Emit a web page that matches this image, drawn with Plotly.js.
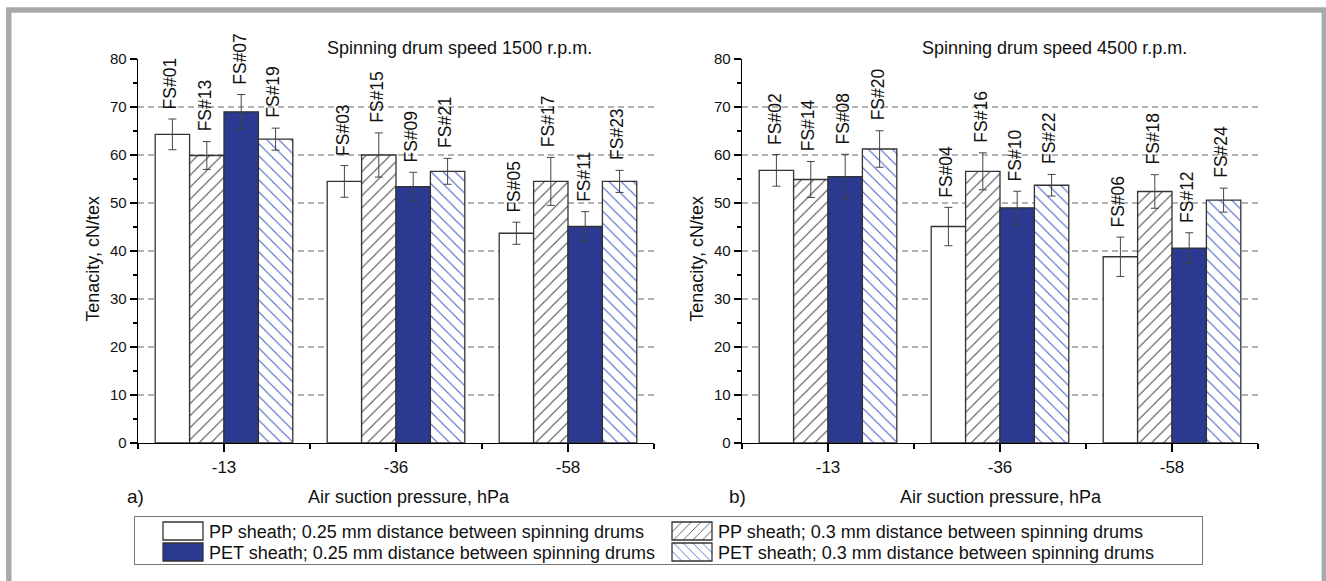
<!DOCTYPE html>
<html><head><meta charset="utf-8">
<script src="https://cdn.plot.ly/plotly-3.0.1.min.js"></script>
<style>html,body{margin:0;padding:0;background:#fff;}#chart{width:1326px;height:581px;}</style>
</head><body><div id="chart"></div>
<script>
// ---------- DATA ----------
const categories = ['-13', '-36', '-58'];
const seriesNames = [
  'PP sheath; 0.25 mm distance between spinning drums',
  'PP sheath; 0.3 mm distance between spinning drums',
  'PET sheath; 0.25 mm distance between spinning drums',
  'PET sheath; 0.3 mm distance between spinning drums'
];
// Spinning drum speed 1500 r.p.m.
const pp025_1500 = [64.3, 54.5, 43.7];
const pp025_1500_err = [3.2, 3.3, 2.3];
const pp03_1500 = [59.9, 60.0, 54.5];
const pp03_1500_err = [2.9, 4.6, 5.0];
const pet025_1500 = [69.0, 53.4, 45.1];
const pet025_1500_err = [3.6, 3.0, 3.1];
const pet03_1500 = [63.3, 56.6, 54.5];
const pet03_1500_err = [2.3, 2.7, 2.3];
const pp025_1500_labels = ['FS#01', 'FS#03', 'FS#05'];
const pp03_1500_labels = ['FS#13', 'FS#15', 'FS#17'];
const pet025_1500_labels = ['FS#07', 'FS#09', 'FS#11'];
const pet03_1500_labels = ['FS#19', 'FS#21', 'FS#23'];
// Spinning drum speed 4500 r.p.m.
const pp025_4500 = [56.8, 45.1, 38.8];
const pp025_4500_err = [3.3, 4.0, 4.1];
const pp03_4500 = [54.9, 56.6, 52.4];
const pp03_4500_err = [3.75, 3.85, 3.5];
const pet025_4500 = [55.5, 49.0, 40.6];
const pet025_4500_err = [4.65, 3.45, 3.2];
const pet03_4500 = [61.25, 53.7, 50.6];
const pet03_4500_err = [3.8, 2.25, 2.5];
const pp025_4500_labels = ['FS#02', 'FS#04', 'FS#06'];
const pp03_4500_labels = ['FS#14', 'FS#16', 'FS#18'];
const pet025_4500_labels = ['FS#08', 'FS#10', 'FS#12'];
const pet03_4500_labels = ['FS#20', 'FS#22', 'FS#24'];
const panelTitles = ['Spinning drum speed 1500 r.p.m.', 'Spinning drum speed 4500 r.p.m.'];
const panelLetters = ['a)', 'b)'];
const xTitle = 'Air suction pressure, hPa';
const yTitle = 'Tenacity, cN/tex';
const gridValues = [10, 20, 30, 40, 50, 60, 70];

// ---------- STYLE ----------
const W = 1326, H = 581;
const FONT = 'Liberation Sans, Arial, Helvetica, sans-serif';
const BLUE = '#2b3990';
const styles = [
  {color: '#ffffff'},
  {color: '#ffffff', pattern: {shape: '/', fgcolor: '#444444', bgcolor: '#ffffff', size: 8.5, solidity: 0.12}},
  {color: BLUE},
  {color: '#ffffff', pattern: {shape: '\\', fgcolor: '#3f5cc8', bgcolor: '#ffffff', size: 8.5, solidity: 0.12}}
];
const bargap = 0.2;
const xIdx = categories.map((c, i) => i);

const panels = [
  {xa: 'x', ya: 'y', vals: [pp025_1500, pp03_1500, pet025_1500, pet03_1500],
   errs: [pp025_1500_err, pp03_1500_err, pet025_1500_err, pet03_1500_err],
   labels: [pp025_1500_labels, pp03_1500_labels, pet025_1500_labels, pet03_1500_labels],
   titleX: 0.624, xTitleX: 0.525, letterX: -0.004},
  {xa: 'x2', ya: 'y2', vals: [pp025_4500, pp03_4500, pet025_4500, pet03_4500],
   errs: [pp025_4500_err, pp03_4500_err, pet025_4500_err, pet03_4500_err],
   labels: [pp025_4500_labels, pp03_4500_labels, pet025_4500_labels, pet03_4500_labels],
   titleX: 0.605, xTitleX: 0.502, letterX: -0.008}
];

const traces = [];
const annotations = [];
const shapes = [];
const nS = seriesNames.length;
const bw = (1 - bargap) / nS;

panels.forEach((p, pi) => {
  p.vals.forEach((v, j) => {
    const st = styles[j];
    const marker = {color: st.color, line: {color: '#333333', width: 1.3}};
    if (st.pattern) marker.pattern = st.pattern;
    traces.push({
      type: 'bar', name: seriesNames[j], x: xIdx, y: v,
      xaxis: p.xa, yaxis: p.ya, showlegend: pi === 0, legendgroup: 's' + j,
      marker: marker,
      error_y: {type: 'data', array: p.errs[j], visible: true, color: '#444444', thickness: 1, width: 4},
      hoverinfo: 'skip'
    });
    v.forEach((val, i) => {
      annotations.push({
        xref: p.xa, yref: p.ya, x: i + (j - (nS - 1) / 2) * bw, y: val + p.errs[j][i],
        text: p.labels[j][i], textangle: -90, showarrow: false,
        xanchor: 'center', yanchor: 'bottom', yshift: 8, xshift: -2,
        font: {size: 17.5, color: '#111', family: FONT}
      });
    });
  });
  const xd = p.xa + ' domain', yd = p.ya + ' domain';
  annotations.push({xref: xd, yref: yd, x: p.titleX, y: 1, yshift: 11, yanchor: 'middle', xanchor: 'center',
    text: panelTitles[pi], showarrow: false, font: {size: 18, color: '#111', family: FONT}});
  annotations.push({xref: xd, yref: yd, x: p.xTitleX, y: 0, yshift: -54, yanchor: 'middle', xanchor: 'center',
    text: xTitle, showarrow: false, font: {size: 18, color: '#111', family: FONT}});
  annotations.push({xref: xd, yref: yd, x: p.letterX, y: 0, yshift: -54, yanchor: 'middle', xanchor: 'center',
    text: panelLetters[pi], showarrow: false, font: {size: 19, color: '#111', family: FONT}});
  annotations.push({xref: xd, yref: yd, x: 0, xshift: -45, y: 0.48, yanchor: 'middle', xanchor: 'center',
    text: yTitle, textangle: -90, showarrow: false, font: {size: 18, color: '#111', family: FONT}});
  gridValues.forEach(g => {
    shapes.push({type: 'line', xref: xd, yref: p.ya, x0: 0, x1: 1, y0: g, y1: g, layer: 'below',
      line: {color: '#9a9a9a', width: 1.3, dash: '6px,4px'}});
  });
});

// outer frame
shapes.push({type: 'rect', xref: 'paper', yref: 'paper', x0: 8.8 / W, x1: 1324.3 / W, y0: -0.1, y1: (H - 10) / H,
  line: {color: '#a7a9ac', width: 5.4}, fillcolor: 'rgba(0,0,0,0)', layer: 'above'});

function xAxis(domain, anchor) {
  return {domain: domain, anchor: anchor, range: [-0.5, categories.length - 0.5], tickmode: 'array',
    tickvals: xIdx, ticktext: categories, ticks: 'outside', ticklen: 8, tickwidth: 1.3, tickcolor: '#000',
    showline: true, linecolor: '#000', linewidth: 1.3, showgrid: false, zeroline: false,
    tickfont: {size: 17, color: '#111', family: FONT}, fixedrange: true,
    minor: {tickmode: 'array', tickvals: [-0.5].concat(xIdx.map(v => v + 0.5)), ticks: 'outside', ticklen: 5, tickwidth: 1.3, tickcolor: '#000', showgrid: false}};
}
function yAxis(domain, anchor) {
  return {domain: domain, anchor: anchor, range: [0, 80], tick0: 0, dtick: 10, ticks: 'outside', ticklen: 7,
    tickwidth: 1.3, tickcolor: '#000', showline: true, linecolor: '#000', linewidth: 1.3, showgrid: false,
    zeroline: false, tickfont: {size: 15, color: '#111', family: FONT}, fixedrange: true,
    minor: {tick0: 0, dtick: 5, ticks: 'outside', ticklen: 4, tickwidth: 1.3, tickcolor: '#000', showgrid: false}};
}
const yDom = [(H - 443) / H, (H - 59) / H];
const layout = {
  width: W, height: H, margin: {l: 0, r: 0, t: 0, b: 0, pad: 0},
  paper_bgcolor: '#ffffff', plot_bgcolor: 'rgba(0,0,0,0)',
  font: {family: FONT, color: '#111', size: 15},
  barmode: 'group', bargap: bargap, bargroupgap: 0,
  xaxis: xAxis([138 / W, 654 / W], 'y'),
  yaxis: yAxis(yDom, 'x'),
  xaxis2: xAxis([742 / W, 1258 / W], 'y2'),
  yaxis2: yAxis(yDom, 'x2'),
  showlegend: true,
  legend: {orientation: 'h', x: 134 / W, y: (H - 516) / H, xanchor: 'left', yanchor: 'top',
    bgcolor: '#ffffff', bordercolor: '#777777', borderwidth: 1,
    font: {size: 18, color: '#111', family: FONT}, itemwidth: 64, entrywidth: 430, entrywidthmode: 'pixels',
    traceorder: 'normal', itemclick: false, itemdoubleclick: false},
  annotations: annotations, shapes: shapes
};

function parseTranslate(el) {
  var t = el.getAttribute('transform') || '';
  var m = t.match(/translate\(\s*([-\d.eE]+)[ ,]+([-\d.eE]+)\s*\)/);
  return m ? [parseFloat(m[1]), parseFloat(m[2])] : [0, 0];
}

Plotly.newPlot('chart', traces, layout, {displayModeBar: false, staticPlot: true}).then(function (gd) {
  var items = Array.prototype.slice.call(gd.querySelectorAll('.legend .traces'));
  // bigger legend swatches
  items.forEach(function (it) {
    var txt = it.querySelector('text.legendtext');
    var p = it.querySelector('.legendpoints path');
    if (!txt || !p) return;
    var tx = parseFloat(txt.getAttribute('x')) || 40;
    p.setAttribute('transform', 'translate(0,0)');
    p.setAttribute('d', 'M' + (tx - 46) + ',-9H' + (tx - 6) + 'V9H' + (tx - 46) + 'Z');
  });
  // tighter rows, box size as in the original figure
  var ys = [];
  items.forEach(function (it) { var y = parseTranslate(it)[1]; if (ys.indexOf(y) < 0) ys.push(y); });
  ys.sort(function (a, b) { return a - b; });
  var rowH = 21, firstY = 15;
  items.forEach(function (it) {
    var tr = parseTranslate(it);
    var row = ys.indexOf(tr[1]);
    it.setAttribute('transform', 'translate(' + tr[0] + ',' + (firstY + row * rowH) + ')');
  });
  var bg = gd.querySelector('.legend rect.bg');
  if (bg) { bg.setAttribute('height', 48); bg.setAttribute('width', 1068); }
  var clip = gd.querySelector('clipPath[id^="legend"] rect');
  if (clip) { clip.setAttribute('height', 48); clip.setAttribute('width', 1068); }
});
</script></body></html>
